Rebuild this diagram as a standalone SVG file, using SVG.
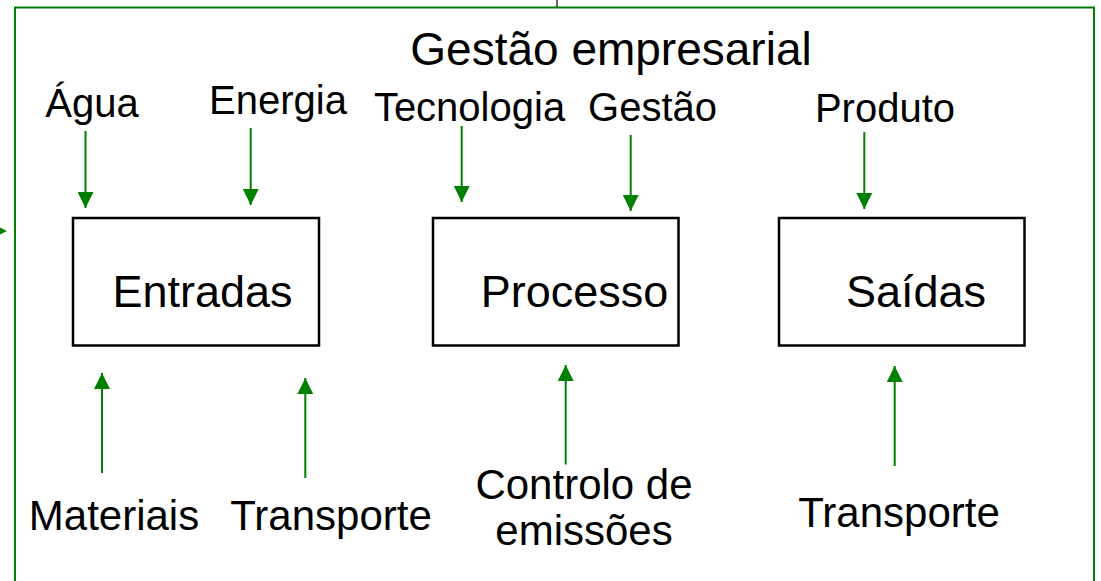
<svg xmlns="http://www.w3.org/2000/svg" width="1101" height="581" viewBox="0 0 1101 581">
<style>
text{font-family:"Liberation Sans",Arial,sans-serif;fill:#000;text-anchor:middle}
.lt{font-size:40px}
.lb{font-size:42px}
.bx{font-size:45px}
.title{font-size:46px}
.box{fill:#fff;stroke:#000;stroke-width:2.5}
.arr{stroke:#008000;stroke-width:2;fill:none}
.head{fill:#008000}
</style>
<defs>
<marker id="ah" markerUnits="userSpaceOnUse" markerWidth="16" markerHeight="16" viewBox="0 0 16 16" refX="16" refY="8" orient="auto">
<path d="M0,0 L16,8 L0,16 Z" class="head"/>
</marker>
</defs>
<rect width="1101" height="581" fill="#fff"/>
<g id="frame">
<rect x="15" y="7.5" width="1079" height="600" fill="none" stroke="#008000" stroke-width="2"/>
<line x1="557" y1="0" x2="557" y2="7" stroke="#000" stroke-width="1.2"/>
<path d="M7,231 L-8,223.5 L-8,238.5 Z" class="head"/>
<text class="title" x="611" y="65">Gestão empresarial</text>
</g>
<g id="node-entradas">
<rect class="box" x="73" y="218" width="246" height="127.5"/>
<text class="bx" x="202.5" y="306.5">Entradas</text>
</g>
<g id="node-processo">
<rect class="box" x="433" y="218" width="245.5" height="127.5"/>
<text class="bx" x="574.5" y="306.5">Processo</text>
</g>
<g id="node-saidas">
<rect class="box" x="779" y="218" width="245.5" height="127.5"/>
<text class="bx" x="916" y="306.5">Saídas</text>
</g>
<g id="labels">
<text class="lt" x="92" y="117">Água</text>
<text class="lt" x="278" y="114">Energia</text>
<text class="lt" x="469.5" y="121">Tecnologia</text>
<text class="lt" x="652.5" y="121">Gestão</text>
<text class="lt" x="885" y="122">Produto</text>
<text class="lb" x="114" y="530">Materiais</text>
<text class="lb" x="331" y="530">Transporte</text>
<text class="lb" x="584" y="499">Controlo de</text>
<text class="lb" x="584" y="545">emissões</text>
<text class="lb" x="899" y="527">Transporte</text>
</g>
<g id="connectors">
<line class="arr" x1="85.5" y1="131" x2="85.5" y2="208" marker-end="url(#ah)"/>
<line class="arr" x1="250.7" y1="128" x2="250.7" y2="205" marker-end="url(#ah)"/>
<line class="arr" x1="461.7" y1="126" x2="461.7" y2="202" marker-end="url(#ah)"/>
<line class="arr" x1="630.7" y1="135" x2="630.7" y2="211" marker-end="url(#ah)"/>
<line class="arr" x1="864.3" y1="132" x2="864.3" y2="209" marker-end="url(#ah)"/>
<line class="arr" x1="102" y1="473" x2="102" y2="373" marker-end="url(#ah)"/>
<line class="arr" x1="305.3" y1="478" x2="305.3" y2="378" marker-end="url(#ah)"/>
<line class="arr" x1="565.7" y1="464.5" x2="565.7" y2="365" marker-end="url(#ah)"/>
<line class="arr" x1="894.7" y1="466" x2="894.7" y2="366" marker-end="url(#ah)"/>
</g>
</svg>
